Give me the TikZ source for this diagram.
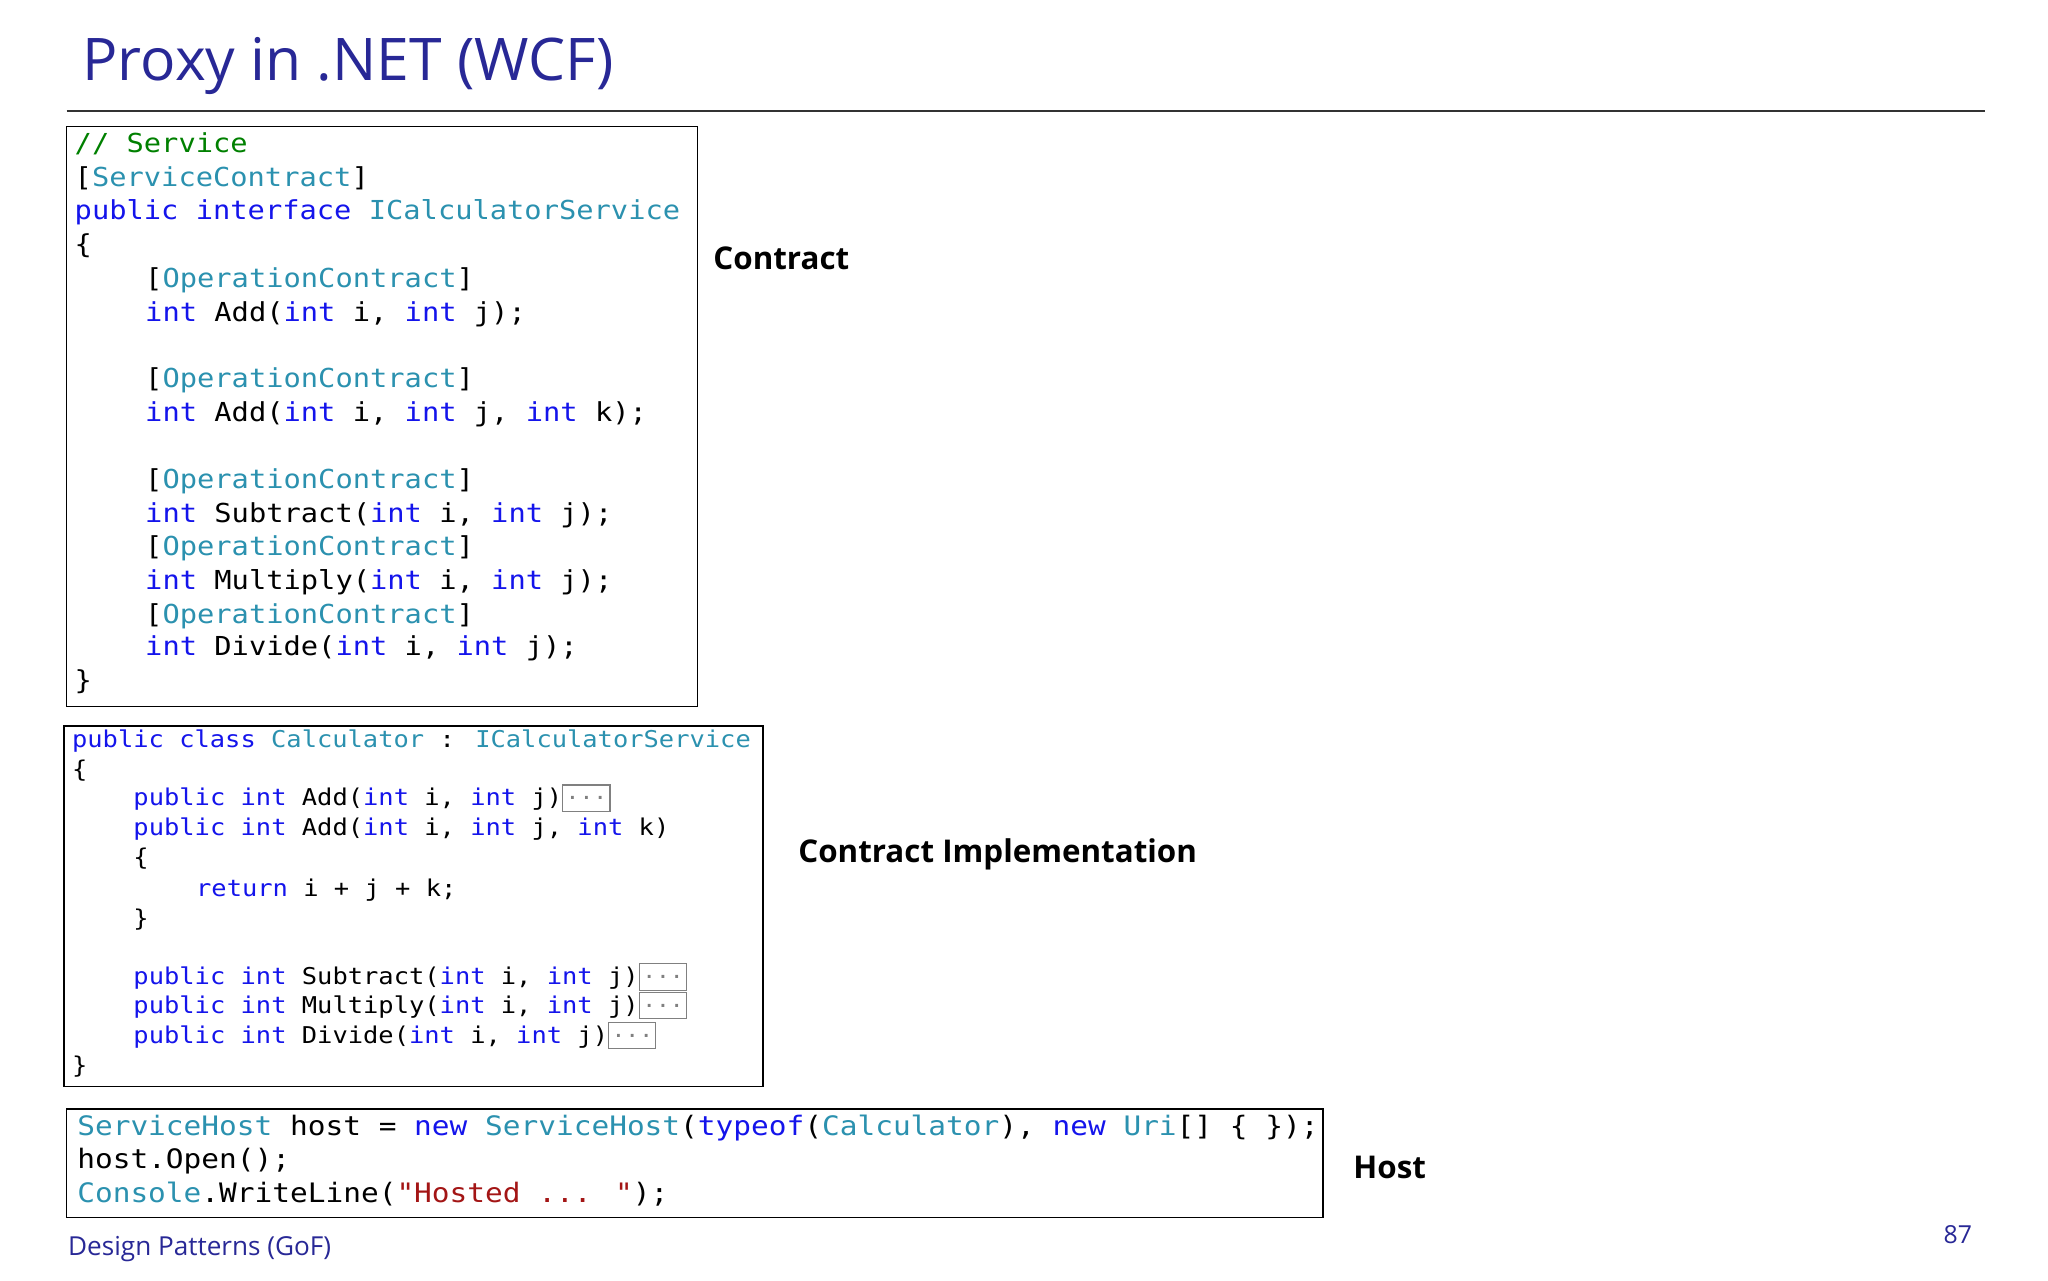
\documentclass[tikz,border=0pt]{standalone}
\usepackage{fontspec}
\setmainfont{Open Sans}
\newfontfamily\codef[FakeStretch=1.1]{DejaVu Sans Mono}
\definecolor{kwc}{RGB}{20,20,235}
\definecolor{tyc}{RGB}{43,145,175}
\definecolor{cmc}{RGB}{0,128,0}
\definecolor{stc}{RGB}{163,21,21}
\definecolor{titc}{RGB}{40,40,150}
\newcommand{\kw}[1]{\textcolor{kwc}{#1}}
\newcommand{\ty}[1]{\textcolor{tyc}{#1}}
\newcommand{\cmt}[1]{\textcolor{cmc}{#1}}
\newcommand{\stt}[1]{\textcolor{stc}{#1}}
\begin{document}
\begin{tikzpicture}[x=1pt,y=-1pt,
 ca/.style={anchor=base west,inner sep=0pt,font=\codef\fontsize{20}{20}\selectfont},
 cb/.style={anchor=base west,inner sep=0pt,font=\codef\fontsize{17.7}{18}\selectfont},
 lbl/.style={anchor=west,inner sep=0pt,font=\bfseries\fontsize{24}{24}\selectfont},
 frame/.style={draw=black,line width=1.2pt},
 dots/.style={draw=gray,line width=0.8pt,anchor=west,inner sep=1pt,minimum width=36pt,minimum height=20pt,text=gray,font=\codef\fontsize{16}{16}\selectfont}]
\useasboundingbox (0,0) rectangle (1568,980);
\node[anchor=base west,inner sep=0pt,text=titc,font=\fontsize{45}{45}\selectfont] (title) at (63,62) {Proxy in .NET (WCF)};
\draw[line width=1.2pt,black!80] (51,85) -- (1520,85);
% box 1
\draw[frame] (51,97) rectangle (534,541);
\node[ca] (a1) at (57,117) {\cmt{// Service}};
\node[ca] (a2) at (57,143) {[\ty{ServiceContract}]};
\node[ca] (a3) at (57,168) {\kw{public} \kw{interface} \ty{ICalculatorService}};
\node[ca] (a4) at (57,194) {\{};
\node[ca] (a5) at (111,220) {[\ty{OperationContract}]};
\node[ca] (a6) at (111,246) {\kw{int} Add(\kw{int} i, \kw{int} j);};
\node[ca] (a7) at (111,297) {[\ty{OperationContract}]};
\node[ca] (a8) at (111,323) {\kw{int} Add(\kw{int} i, \kw{int} j, \kw{int} k);};
\node[ca] (a9) at (111,374) {[\ty{OperationContract}]};
\node[ca] (a10) at (111,400) {\kw{int} Subtract(\kw{int} i, \kw{int} j);};
\node[ca] (a11) at (111,425) {[\ty{OperationContract}]};
\node[ca] (a12) at (111,451) {\kw{int} Multiply(\kw{int} i, \kw{int} j);};
\node[ca] (a13) at (111,477) {[\ty{OperationContract}]};
\node[ca] (a14) at (111,502) {\kw{int} Divide(\kw{int} i, \kw{int} j);};
\node[ca] (a15) at (57,528) {\}};
\node[lbl] (l1) at (546,198) {Contract};
% box 2
\draw[frame] (49,556) rectangle (584,832);
\node[cb] (b1) at (55,572) {\kw{public} \kw{class} \ty{Calculator} : \ty{ICalculatorService}};
\node[cb] (b2) at (55,595) {\{};
\node[cb] (b3) at (102,617) {\kw{public} \kw{int} Add(\kw{int} i, \kw{int} j)};
\node[dots] (d3) at (b3.base east |- 0,611) {...};
\node[cb] (b4) at (102,640) {\kw{public} \kw{int} Add(\kw{int} i, \kw{int} j, \kw{int} k)};
\node[cb] (b5) at (102,663) {\{};
\node[cb] (b6) at (150,686) {\kw{return} i + j + k;};
\node[cb] (b7) at (102,709) {\}};
\node[cb] (b8) at (102,754) {\kw{public} \kw{int} Subtract(\kw{int} i, \kw{int} j)};
\node[dots] (d8) at (b8.base east |- 0,748) {...};
\node[cb] (b9) at (102,776) {\kw{public} \kw{int} Multiply(\kw{int} i, \kw{int} j)};
\node[dots] (d9) at (b9.base east |- 0,770) {...};
\node[cb] (b10) at (102,799) {\kw{public} \kw{int} Divide(\kw{int} i, \kw{int} j)};
\node[dots] (d10) at (b10.base east |- 0,793) {...};
\node[cb] (b11) at (55,822) {\}};
\node[lbl] (l2) at (611,654) {Contract Implementation};
% box 3
\draw[frame] (51,849) rectangle (1013,932);
\node[ca,font=\codef\fontsize{20.5}{20}\selectfont] (c1) at (59,869) {\ty{ServiceHost} host = \kw{new} \ty{ServiceHost}(\kw{typeof}(\ty{Calculator}), \kw{new} \ty{Uri}[] \{ \});};
\node[ca,font=\codef\fontsize{20.5}{20}\selectfont] (c2) at (59,895) {host.Open();};
\node[ca,font=\codef\fontsize{20.5}{20}\selectfont] (c3) at (59,921) {\ty{Console}.WriteLine(\stt{"Hosted ... "});};
\node[lbl] (l3) at (1036,894) {Host};
% footer
\node[anchor=west,inner sep=0pt,text=titc,font=\fontsize{20}{20}\selectfont] (foot) at (52,956) {Design Patterns (GoF)};
\node[anchor=east,inner sep=0pt,text=titc,font=\fontsize{19}{19}\selectfont] (pg) at (1510,945) {87};
\end{tikzpicture}
\end{document}
